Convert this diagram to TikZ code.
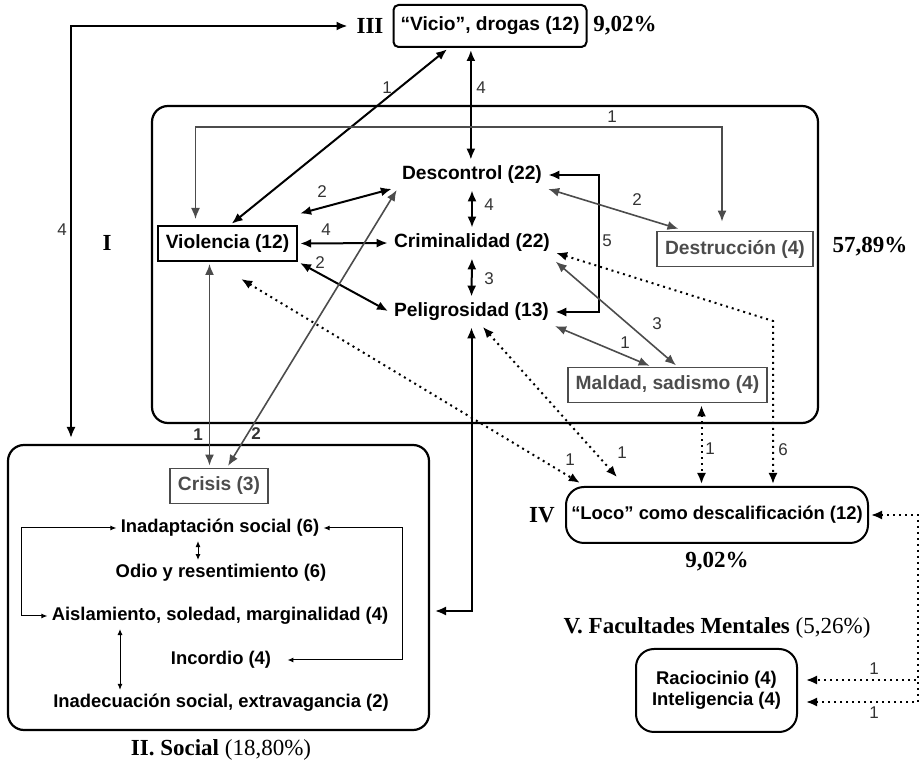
\documentclass[tikz,border=0pt]{standalone}
\usepackage{fontspec}
\setmainfont{Liberation Serif}
\setsansfont{Liberation Sans}
\usetikzlibrary{arrows.meta}
\definecolor{edgegray}{gray}{0.3}
\begin{document}
\begin{tikzpicture}
[x=0.5pt,y=-0.5pt,
  textdecorate/.style={font=\sffamily\bfseries\fontsize{9.6}{10.5}\selectfont,inner sep=2pt},%
  smalltextdecorate/.style={textdecorate,font=\sffamily\bfseries\fontsize{9.2}{10.5}\selectfont},%
  boxdecorate/.style={textdecorate,draw,line width=1pt,inner xsep=4pt,minimum height=17.5pt},%
  grayboxdecorate/.style={boxdecorate,draw=edgegray,text=edgegray,line width=0.9pt},%
  roundboxdecorate/.style={smalltextdecorate,draw,line width=1pt,rounded corners=9pt,inner xsep=1pt},%
  groupdecorate/.style={draw,line width=1.1pt,rounded corners=8pt},%
  romandecorate/.style={font=\rmfamily\bfseries\fontsize{11.5}{13}\selectfont},%
  labeldecorate/.style={font=\sffamily\fontsize{8.5}{10}\selectfont,text=black!80,inner sep=1pt},%
  linedecorate/.style={{Latex[length=5.5pt,width=4.5pt]}-{Latex[length=5.5pt,width=4.5pt]},line width=1pt,shorten <=1pt,shorten >=1pt},%
  graylinedecorate/.style={linedecorate,draw=edgegray,line width=0.8pt},%
  dotlinedecorate/.style={linedecorate,dotted},%
  thinlinedecorate/.style={{Latex[length=3pt,width=2.5pt]}-{Latex[length=3pt,width=2.5pt]},line width=0.5pt}]
\useasboundingbox (0,0) rectangle (923,764);
%% groups
\node (grpI) at (485,264.5) [groupdecorate,minimum width=333pt,minimum height=158.5pt] {};
\node (grpII) at (218.5,587.5) [groupdecorate,minimum width=210.5pt,minimum height=142.5pt] {};
%% boxes
\node (vicio) at (490,26) [roundboxdecorate,textdecorate,rounded corners=2.5pt,minimum width=96.5pt,minimum height=21pt] {“Vicio”, drogas (12)};
\node (viol) at (227.5,243.5) [boxdecorate] {Violencia (12)};
\node (destr) at (735,249) [grayboxdecorate] {Destrucción (4)};
\node (maldad) at (667.5,385) [grayboxdecorate] {Maldad, sadismo (4)};
\node (crisis) at (219,486) [grayboxdecorate] {Crisis (3)};
\node (loco) at (717,515) [roundboxdecorate,minimum width=151pt,minimum height=28pt] {“Loco” como descalificación (12)};
\node (rac) at (716.5,690.5) [roundboxdecorate,minimum width=80.5pt,minimum height=41.5pt,align=center] {Raciocinio (4)\\Inteligencia (4)};
%% categories without frame
\foreach \nodename/\x/\y/\txt in {
  desc/472/175/{Descontrol (22)}, crim/472/243/{Criminalidad (22)},
  pel/471.5/312/{Peligrosidad (13)}} {
  \node (\nodename) at (\x,\y) [textdecorate] {\txt};
}
\foreach \nodename/\x/\y/\txt in {
  inad/220/528/{Inadaptación social (6)},
  odio/221/573/{Odio y resentimiento (6)},
  aisl/220/616/{Aislamiento, soledad, marginalidad (4)},
  incord/221/660/{Incordio (4)},
  inadec/221/703/{Inadecuación social, extravagancia (2)}} {
  \node (\nodename) at (\x,\y) [smalltextdecorate] {\txt};
}
%% group names and percentages
\foreach \nodename/\x/\y/\txt in {
  numI/107/243/I, numIII/370/26/III, numIV/542/515/IV,
  pctI/870/247/{57,89\%}, pctIII/625/26/{9,02\%}, pctIV/717/562/{9,02\%},
  titII/221/750/{II. Social \mdseries(18,80\%)},
  titV/717/628/{V. Facultades Mentales \mdseries(5,26\%)}} {
  \node (\nodename) at (\x,\y) [romandecorate] {\txt};
}
%% counts on the lines
\foreach \labelname/\x/\y/\txt in {
  labA/387/88/1, labB/481/88/4, labC/62/230/4, labD/612/117/1,
  labE/322/192/2, labF/326/230/4, labG/320/263/2, labH/489/205/4,
  labI/489/279/3, labJ/607/241/5, labK/637/200/2, labL/657/324/3,
  labM/625/343/1, labN/570/460/1, labO/622/453/1, labP/710/449/1,
  labQ/783/450/6, labR/874/669/1, labS/874/713/1,
  labT/198/435/{\textbf{1}}, labU/256/434/{\textbf{2}}} {
  \node (\labelname) at (\x,\y) [labeldecorate] {\txt};
}
\coordinate (socTop) at (71,445);
\coordinate (aislIn) at (433,611);
\coordinate (locoBend) at (918,515);
%% edges or lines
\path
\foreach \startnode/\endnode in {viol.east/crim.west, desc.south/crim.north,
  crim.south/pel.north, viol.south east/pel.west, vicio.208/viol.82} {
  (\startnode) edge[linedecorate] (\endnode)
};
\draw[linedecorate] (vicio.229) -- (vicio.229 |- desc.north);
\draw[linedecorate] ([yshift=5.5pt]viol.north east) -- ([xshift=-2pt]desc.south west);
\draw[linedecorate] (desc.east) -- ++(53,0) |- (pel.east);
\draw[linedecorate] (pel.south) |- (aislIn);
\draw[linedecorate,shorten >=3.5pt] (numIII.west) -| (socTop);
\draw[graylinedecorate,shorten <=3pt,shorten >=4.5pt] ([xshift=-16pt]viol.north) -- ++(0,-98) -| ([xshift=-6.5pt]destr.north);
\draw[graylinedecorate,shorten >=3pt] (desc.south east) -- ([xshift=14pt]destr.north west);
\draw[graylinedecorate] ([yshift=-2pt]crim.south east) -- ([xshift=5pt]maldad.north);
\draw[graylinedecorate] (pel.south east) -- ([xshift=-8pt]maldad.north);
\draw[graylinedecorate] ([xshift=-9pt]viol.south) -- ([xshift=-9pt]viol.south |- crisis.north);
\draw[graylinedecorate] (desc.south west) -- ([xshift=4pt]crisis.north);
%% dotted lines to IV and V
\draw[dotlinedecorate,shorten >=3pt] ([xshift=6pt,yshift=-8pt]viol.south) -- ([xshift=10pt]loco.north west);
\draw[dotlinedecorate,shorten >=6pt] ([xshift=5pt]pel.south) -- ([xshift=30pt]loco.north west);
\draw[dotlinedecorate] ([xshift=17pt]maldad.south) -- ([xshift=17pt]maldad.south |- loco.north);
\draw[dotlinedecorate] ([yshift=2pt]crim.south east) -- ([xshift=28pt,yshift=82.5pt]loco.north) -- ([xshift=28pt]loco.north);
\draw[dotlinedecorate,shorten >=4pt] (loco.east) -- (locoBend) |- ([yshift=-5.75pt]rac.east);
\draw[dotlinedecorate,-{Latex[length=5.5pt,width=4.5pt]},shorten >=4pt] (locoBend |- rac.east) ++(0,-10.5) -- ([yshift=5.25pt]rac.east);
%% inside II
\draw[thinlinedecorate] (inad.west) -- ++(-95,0) |- (aisl.west);
\draw[thinlinedecorate] ([xshift=-11pt]inad.south) -- ([xshift=-11pt]inad.south |- odio.north);
\draw[thinlinedecorate,shorten >=6pt] (inad.east) -- ++(79,0) |- (incord.east);
\draw[thinlinedecorate] ([xshift=-50pt]aisl.south) -- ([xshift=-50pt]aisl.south |- inadec.north);
\end{tikzpicture}
\end{document}
